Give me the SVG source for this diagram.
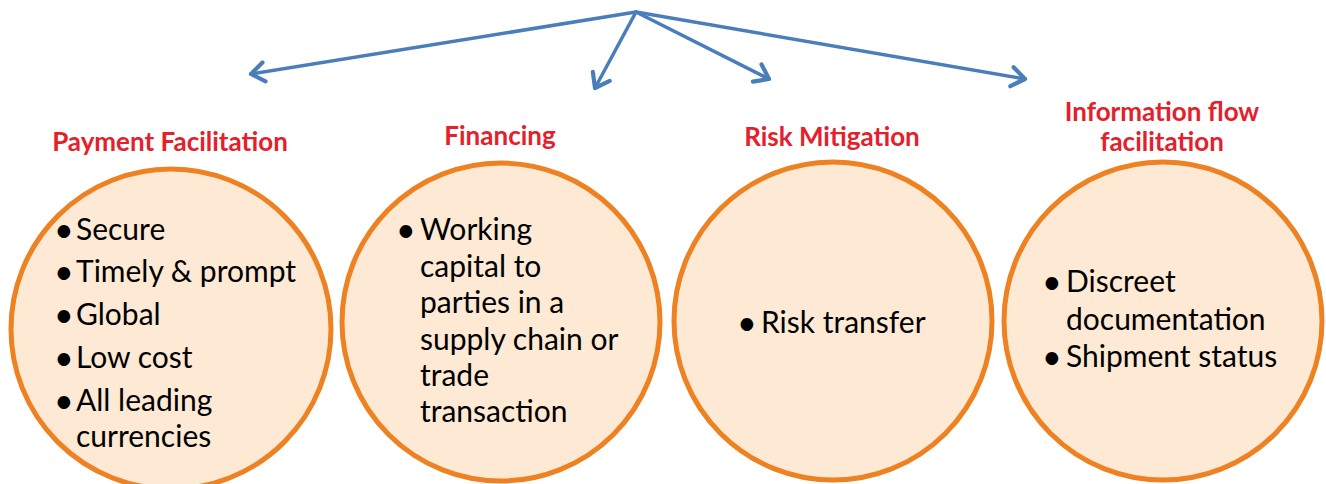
<svg xmlns="http://www.w3.org/2000/svg" width="1326" height="484" viewBox="0 0 1326 484">
<defs>
<marker id="arr" markerUnits="userSpaceOnUse" markerWidth="24" markerHeight="24" viewBox="-16 -10 20 20" refX="0" refY="0" orient="auto">
<polyline points="-11,-8 0,0 -11,8" fill="none" stroke="#4A7EBB" stroke-width="3.5" stroke-linecap="round" stroke-linejoin="round"/>
</marker>
<style>
.c{fill:#FDE9D4;stroke:#EE8121;stroke-width:5}
.t{font-family:Lato,"Liberation Sans",sans-serif;font-weight:bold;font-size:26px;fill:#E5202A;text-anchor:middle}
.b{font-family:Lato,"Liberation Sans",sans-serif;font-size:30px;fill:#000}
.d{font-family:Lato,"Liberation Sans",sans-serif;font-size:34px;fill:#000}
.a{fill:none;stroke:#4A7EBB;stroke-width:3.5;stroke-linecap:round;marker-end:url(#arr)}
</style>
</defs>
<rect width="1326" height="484" fill="#fff"/>
<g id="connectors">
<line class="a" x1="636" y1="12" x2="251" y2="74"/>
<line class="a" x1="636" y1="12" x2="595" y2="88"/>
<line class="a" x1="636" y1="12" x2="769" y2="79"/>
<line class="a" x1="636" y1="12" x2="1025" y2="79"/>
</g>
<g id="payment">
<text class="t" x="170" y="151">Payment Facilitation</text>
<circle class="c" cx="171" cy="329" r="160"/>
<text class="d"><tspan x="54" y="242">•</tspan><tspan x="54" y="284">•</tspan><tspan x="54" y="327">•</tspan><tspan x="54" y="370">•</tspan><tspan x="54" y="413">•</tspan></text>
<text class="b"><tspan x="76" y="240">Secure</tspan><tspan x="76" y="282">Timely &amp; prompt</tspan><tspan x="76" y="325">Global</tspan><tspan x="76" y="368">Low cost</tspan><tspan x="76" y="411">All leading</tspan><tspan x="76" y="447">currencies</tspan></text>
</g>
<g id="financing">
<text class="t" x="500" y="145">Financing</text>
<circle class="c" cx="501" cy="322" r="159"/>
<text class="d"><tspan x="396" y="242">•</tspan></text>
<text class="b"><tspan x="420" y="240">Working</tspan><tspan x="420" y="277">capital to</tspan><tspan x="420" y="313">parties in a</tspan><tspan x="420" y="350">supply chain or</tspan><tspan x="420" y="386">trade</tspan><tspan x="420" y="422">transaction</tspan></text>
</g>
<g id="risk">
<text class="t" x="832" y="146">Risk Mitigation</text>
<circle class="c" cx="833" cy="321" r="159"/>
<text class="d"><tspan x="737" y="335">•</tspan></text>
<text class="b"><tspan x="761" y="333">Risk transfer</tspan></text>
</g>
<g id="information">
<text class="t" x="1162" y="121">Information flow</text>
<text class="t" x="1162" y="151">facilitation</text>
<circle class="c" cx="1163" cy="321" r="159"/>
<text class="d"><tspan x="1042" y="294">•</tspan><tspan x="1042" y="369">•</tspan></text>
<text class="b"><tspan x="1066" y="292">Discreet</tspan><tspan x="1066" y="330">documentation</tspan><tspan x="1066" y="367">Shipment status</tspan></text>
</g>
</svg>
